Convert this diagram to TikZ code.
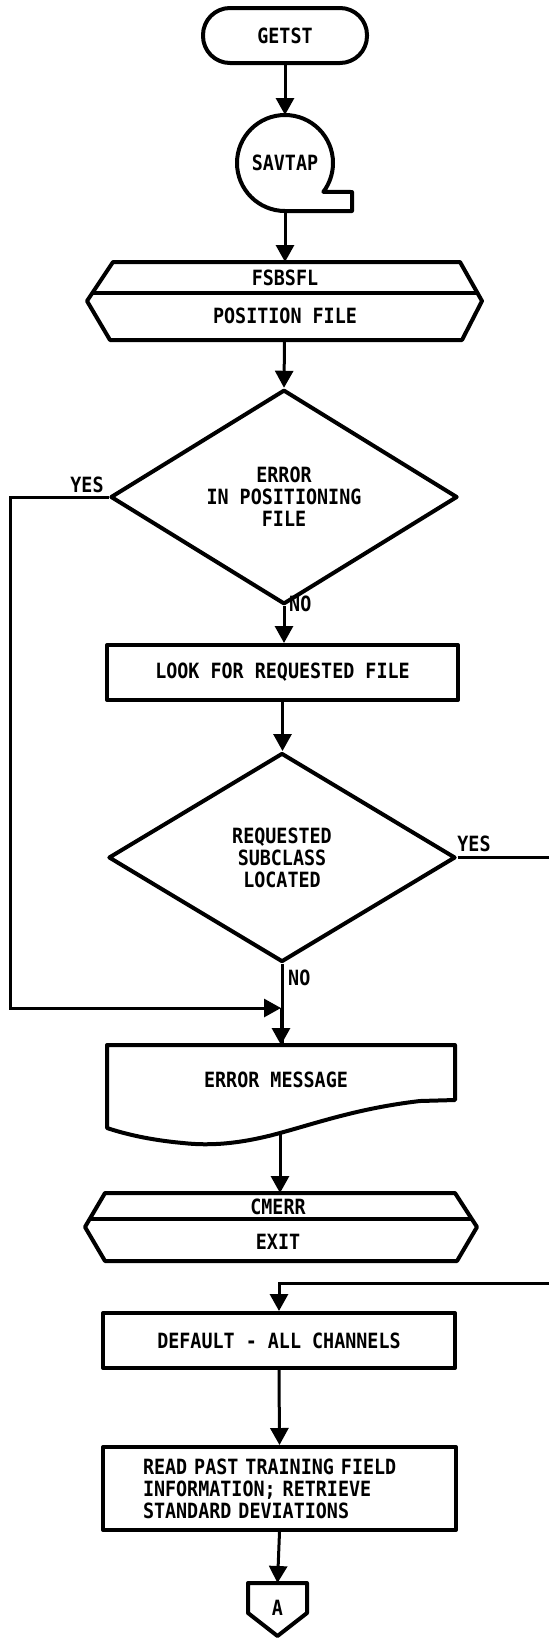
\documentclass[tikz,border=0pt]{standalone}
\usepackage{fontspec}
\newfontfamily\flowfont[FakeStretch=0.875]{DejaVu Sans Mono}
\usetikzlibrary{arrows.meta,shapes.geometric}
\tikzset{
  every node/.style={font=\flowfont\bfseries\fontsize{21}{22}\selectfont},
  outline/.style={line width=4pt, line join=round},
  box/.style={draw, outline, rectangle, inner sep=0pt},
  term/.style={draw, outline, rectangle, rounded corners=27pt, minimum width=164pt, minimum height=55pt},
  deci/.style={draw, outline, diamond, inner sep=0pt, align=center},
  ghost/.style={rectangle, inner sep=0pt, outer sep=0pt},
  flow/.style={line width=3pt, -{Triangle[width=18pt,length=17pt]}},
  plain/.style={line width=3pt},
  lbl/.style={inner sep=0pt}
}
\begin{document}
\begin{tikzpicture}[x=1pt,y=-1pt]
\useasboundingbox[fill=white] (0,0) rectangle (549,1639);

% GETST terminator
\node[term] (getst) at (285,35.5) {GETST};

% SAVTAP tape symbol
\node[ghost, circle, minimum size=96pt] (savtap) at (285,163) {SAVTAP};
\draw[outline] (285,211) arc[start angle=90, end angle=397, radius=48] -- (352,192) -- (352,211) -- cycle;

% FSBSFL / POSITION FILE hexagon
\node[ghost, minimum width=395pt, minimum height=78pt] (hexa) at (284.5,301) {};
\draw[outline] (113,262) -- (460,262) -- (482,301) -- (462,340) -- (110,340) -- (87,301) -- cycle;
\draw[outline] (92,293) -- (478,293);
\node[lbl] (fsbsfl) at (285,278) {FSBSFL};
\node[lbl] (posfile) at (285,316) {POSITION FILE};

% decision 1
\node[deci, minimum width=347pt, minimum height=206pt] (d1) at (284,497) {ERROR\\IN POSITIONING\\FILE};

% look box
\node[box, minimum width=351pt, minimum height=55pt] (look) at (282.5,672.5) {LOOK FOR REQUESTED FILE};

% decision 2
\node[deci, minimum width=347pt, minimum height=209pt] (d2) at (282,857.5) {REQUESTED\\SUBCLASS\\LOCATED};

% error message document
\node[ghost, minimum width=348pt, minimum height=89pt] (errmsg) at (281,1089.5) {};
\draw[outline] (107,1045) -- (455,1045) -- (455,1100) -- (420,1101)
  .. controls (360,1108) and (320,1122) .. (280,1133)
  .. controls (240,1144) and (210,1146) .. (183,1143)
  .. controls (150,1140) and (125,1134) .. (107,1128) -- cycle;
\node[lbl] (errtext) at (276,1080) {ERROR MESSAGE};
\coordinate (errout) at (280,1134);

% CMERR / EXIT hexagon
\node[ghost, minimum width=392pt, minimum height=68pt] (hexb) at (281,1227) {};
\draw[outline] (105,1193) -- (455,1193) -- (477,1227) -- (457,1261) -- (105,1261) -- (85,1227) -- cycle;
\draw[outline] (90,1219) -- (472,1219);
\node[lbl] (cmerr) at (278,1207) {CMERR};
\node[lbl] (exit) at (278,1242) {EXIT};

% default box
\node[box, minimum width=352pt, minimum height=55pt] (default) at (279,1340.5) {DEFAULT - ALL CHANNELS};

% read box
\node[box, minimum width=353pt, minimum height=83pt, text width=273pt, inner xsep=40pt, align=left] (read) at (279.5,1488.5)
  {READ PAST TRAINING FIELD\\INFORMATION; RETRIEVE\\STANDARD DEVIATIONS};

% off-page connector A
\draw[outline] (248,1583) -- (307,1583) -- (307,1613) -- (277.5,1636) -- (248,1613) -- cycle;
\node[lbl] (conA) at (277.5,1608) {A};
\coordinate (Atop) at (277.5,1583);

% helper coordinates
\coordinate (leftrail) at (10,0);
\coordinate (rightedge) at (549,0);
\coordinate (junc) at (281,1008);
\coordinate (offin) at (549,1283);

% connectors
\draw[flow] (getst.south) -- (savtap.south |- getst.south) -- (savtap.north);
\draw[flow] (savtap.south) -- (hexa.north -| savtap.south);
\draw[flow] (hexa.south) -- (d1.north);
\draw[flow] (d1.south) -- (d1.south |- look.north);
\draw[flow] (look.south) -- (look.south |- d2.north);
\draw[plain] (d2.south) -- (errmsg.north -| d2.south);
\draw[flow] (junc) -- (errmsg.north -| junc);
\draw[flow] (d1.west) -| (leftrail |- junc) -- (junc);
\draw[flow] (errout) -- (errout |- hexb.north);
\draw[plain] (d2.east) -- (d2.east -| rightedge);
\draw[flow] (offin) -| (default.north);
\draw[flow] (default.south) -- (read.north);
\draw[flow] (read.south) -- (Atop);

% labels
\node[lbl] (yes1) at (87,485) {YES};
\node[lbl, anchor=west] (no1) at (289,604) {NO};
\node[lbl] (yes2) at (474,844) {YES};
\node[lbl, anchor=west] (no2) at (288,978) {NO};
\end{tikzpicture}
\end{document}
